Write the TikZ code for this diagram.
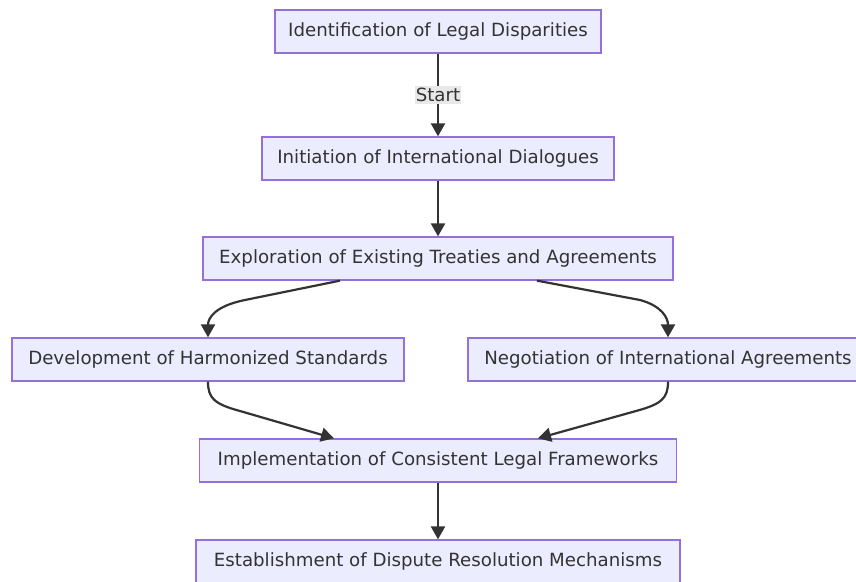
\documentclass[tikz,border=0pt]{standalone}
\usepackage{fontspec}
\setmainfont{DejaVu Sans}
\usetikzlibrary{arrows.meta,calc}
\definecolor{boxfill}{HTML}{ECECFF}
\definecolor{boxline}{HTML}{9370DB}
\definecolor{ink}{HTML}{333333}
\definecolor{labelbg}{HTML}{E8E8E8}
\tikzset{
  stepbox/.style={draw=boxline, fill=boxfill, line width=1.3pt, text=ink,
    minimum height=43pt, inner sep=0pt, font=\fontsize{18.2}{21}\selectfont},
  flow/.style={draw=ink, line width=2.2pt,
    -{Triangle[length=13pt,width=14pt]}},
  edgelabel/.style={fill=labelbg, text=ink, inner xsep=1pt, inner ysep=2.5pt,
    font=\fontsize{18.2}{21}\selectfont}
}
\begin{document}
\begin{tikzpicture}[x=1pt,y=-1pt]
  \useasboundingbox (0,0) rectangle (856,581);
  \fill[white] (0,0) rectangle (856,581);

  \node[stepbox, minimum width=326pt] (ident) at (438,31.5) {Identification of Legal Disparities};
  \node[stepbox, minimum width=352pt] (init) at (438,158.5) {Initiation of International Dialogues};
  \node[stepbox, minimum width=470pt] (explore) at (438,258.5) {Exploration of Existing Treaties and Agreements};
  \node[stepbox, minimum width=392pt] (develop) at (208,359.5) {Development of Harmonized Standards};
  \node[stepbox, minimum width=400pt] (negot) at (668,359.5) {Negotiation of International Agreements};
  \node[stepbox, minimum width=477pt] (implement) at (438,460.5) {Implementation of Consistent Legal Frameworks};
  \node[stepbox, minimum width=484pt] (establish) at (438,561.5) {Establishment of Dispute Resolution Mechanisms};

  % straight connectors
  \draw[flow] (ident.south) -- node[edgelabel] {Start} (init.north);
  \draw[flow] (init.south) -- (explore.north);
  \draw[flow] (implement.south) -- (establish.north);

  % branching connectors
  \draw[flow] ($(explore.south)+(-98,0)$) -- (245,300)
    .. controls (215,306) and (208,318) .. (develop.north);
  \draw[flow] ($(explore.south)+(99,0)$) -- (640,300)
    .. controls (662,306) and (668,318) .. (negot.north);

  % merging connectors
  \draw[flow] (develop.south) .. controls (208,398) and (214,404) .. (240,411)
    -- ($(implement.north)+(-104,0)$);
  \draw[flow] (negot.south) .. controls (668,398) and (662,404) .. (636,411)
    -- ($(implement.north)+(100,0)$);
\end{tikzpicture}
\end{document}
